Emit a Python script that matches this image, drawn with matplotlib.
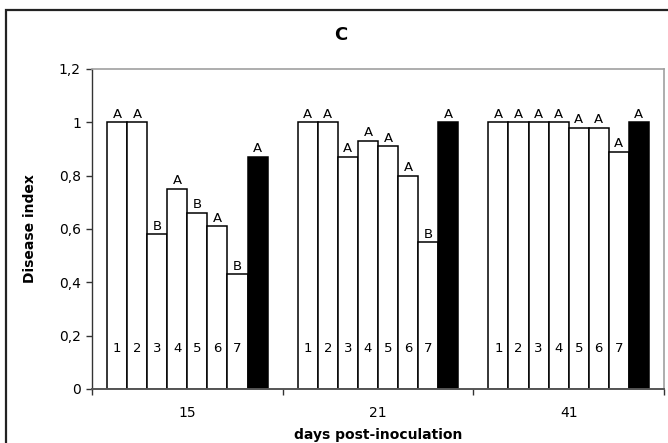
import matplotlib
matplotlib.use("Agg")
import matplotlib.pyplot as plt
import numpy as np
from matplotlib.patches import Rectangle

days = ["15", "21", "41"]
bar_ids = ["1", "2", "3", "4", "5", "6", "7", ""]
values = [
    [1.00, 1.00, 0.58, 0.75, 0.66, 0.61, 0.43, 0.87],
    [1.00, 1.00, 0.87, 0.93, 0.91, 0.80, 0.55, 1.00],
    [1.00, 1.00, 1.00, 1.00, 0.98, 0.98, 0.89, 1.00],
]
letters = [
    ["A", "A", "B", "A", "B", "A", "B", "A"],
    ["A", "A", "A", "A", "A", "A", "B", "A"],
    ["A", "A", "A", "A", "A", "A", "A", "A"],
]

plt.rcParams["font.family"] = "DejaVu Sans"

fig = plt.figure(figsize=(6.68, 4.43), dpi=100)
ax = fig.add_axes([92 / 668, 54 / 443, 572 / 668, 320 / 443])

# outer chart frame (right/bottom edges fall outside the image)
fig.patches.append(Rectangle((6 / 668, -0.1), 1.2, (433 / 443) + 0.1,
                             transform=fig.transFigure, fill=False,
                             edgecolor="#222222", lw=1.6, zorder=0))

n = 8
w = 1 / 9.5
for i, day in enumerate(days):
    for j in range(n):
        x = i + (j - (n - 1) / 2) * w
        v = values[i][j]
        face = "black" if j == n - 1 else "white"
        ax.bar(x, v, width=w, color=face, edgecolor="black", lw=1.1, zorder=2)
        ax.text(x, v + 0.006, letters[i][j], ha="center", va="bottom",
                fontsize=9.5, zorder=3)
        if bar_ids[j]:
            ax.text(x, 0.15, bar_ids[j], ha="center", va="center",
                    fontsize=9.5, zorder=3)

ax.set_xlim(-0.5, 2.5)
ax.set_ylim(0, 1.2)
ax.set_yticks(np.arange(0, 1.21, 0.2))
ax.set_yticklabels(["0", "0,2", "0,4", "0,6", "0,8", "1", "1,2"], fontsize=10)
ax.set_xticks(range(3))
ax.set_xticklabels(days, fontsize=10)
ax.tick_params(axis="x", which="major", length=0, pad=12)
ax.set_xticks([-0.5, 0.5, 1.5, 2.5], minor=True)
ax.tick_params(axis="x", which="minor", length=4, width=1, color="#333333")
ax.tick_params(axis="y", length=4, width=1, color="#333333", pad=4)

for side in ["top", "right"]:
    ax.spines[side].set_color("#a0a0a0")
    ax.spines[side].set_linewidth(1.2)
ax.spines["left"].set_color("#333333")
ax.spines["bottom"].set_color("#555555")
ax.spines["left"].set_linewidth(1.0)
ax.spines["bottom"].set_linewidth(1.4)

ax.set_xlabel("days post-inoculation", fontsize=10, fontweight="bold", labelpad=6)
ax.set_ylabel("Disease index", fontsize=10, fontweight="bold", labelpad=16)
fig.text(341 / 668, 1 - 35 / 443, "C", ha="center", va="center",
         fontsize=13, fontweight="bold")

fig.savefig("out.png", dpi=100)
